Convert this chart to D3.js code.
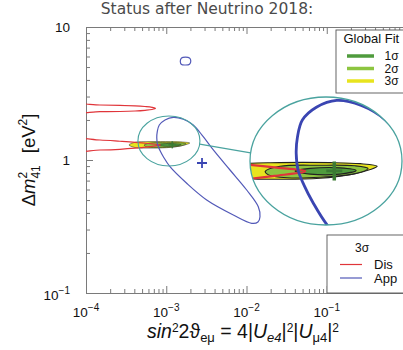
<!DOCTYPE html>
<html><head><meta charset="utf-8">
<script src="https://cdn.jsdelivr.net/npm/d3@7"></script>
<style>body{margin:0;background:#fff} svg{display:block}</style>
</head><body>
<svg id="c" width="403" height="350"></svg>
<script>
// ---------- data ----------
const titleText = "Status after Neutrino 2018:";
const xTickValues = [1e-4, 1e-3, 1e-2, 1e-1];
const xTickExponents = ["−4", "−3", "−2", "−1"];
const yTickValues = [0.1, 1, 10];
const yTickBases = ["10", "1", "10"];
const yTickExponents = ["−1", "", ""];

// Disappearance (3σ) contours  [sin²2θ, Δm²]
const disUpper = [[6.3e-5,2.592],[1.494e-4,2.592],[2.65e-4,2.578],[4.08e-4,2.556],[5.43e-4,2.525],[6.64e-4,2.490],[7.34e-4,2.447],[6.64e-4,2.397],[5.43e-4,2.364],[4.08e-4,2.336],[2.65e-4,2.316],[1.494e-4,2.308],[6.3e-5,2.308]];
const disLower = [[6.3e-5,1.426],[1.494e-4,1.414],[2.65e-4,1.384],[4.08e-4,1.359],[5.92e-4,1.331],[8.48e-4,1.2965],[5.92e-4,1.257],[4.08e-4,1.227],[2.65e-4,1.204],[1.494e-4,1.189],[6.3e-5,1.183]];
// Appearance (3σ) contours
const appMain = [[1.224e-3,2.094],[9.65e-4,1.999],[8.19e-4,1.833],[7.73e-4,1.632],[7.62e-4,1.4636],[7.80e-4,1.3033],[8.36e-4,1.1788],[9.24e-4,1.0533],[1.113e-3,0.8905],[1.798e-3,0.668],[3.19e-3,0.5003],[6.85e-3,0.3859],[1.161e-2,0.3342],[1.390e-2,0.3418],[1.473e-2,0.3748],[1.403e-2,0.4454],[1.006e-2,0.595],[6.23e-3,0.841],[3.86e-3,1.1891],[2.89e-3,1.497],[2.17e-3,1.833],[1.632e-3,2.023]];
const appIsland = [[1.496e-3,5.504],[1.549e-3,5.847],[1.738e-3,5.929],[1.949e-3,5.847],[2.022e-3,5.552],[1.949e-3,5.253],[1.738e-3,5.180],[1.549e-3,5.225]];
const appBestFit = [2.79e-3, 0.949];
// Global fit regions
const gf3 = [[3.434e-4,1.2965],[4.08e-4,1.359],[6.27e-4,1.3749],[1.133e-3,1.3749],[1.612e-3,1.3654],[1.965e-3,1.342],[1.814e-3,1.3123],[1.433e-3,1.2677],[1.010e-3,1.2373],[6.27e-4,1.2288],[4.08e-4,1.2416]];
const gf2 = [[5.30e-4,1.2947],[6.31e-4,1.3411],[1.010e-3,1.3507],[1.518e-3,1.3458],[1.768e-3,1.3223],[1.518e-3,1.2765],[1.010e-3,1.2452],[6.31e-4,1.2452],[5.48e-4,1.2675]];
const gf1 = [[7.52e-4,1.2992],[8.97e-4,1.3223],[1.274e-3,1.3272],[1.537e-3,1.3039],[1.274e-3,1.2721],[8.97e-4,1.2721]];
const globalBestFit = [1.19e-3, 1.30];
const lensCenter = [1.08e-3, 1.39];

const gfLegend = ["1σ", "2σ", "3σ"];
const disAppLegend = ["Dis", "App"];

// ---------- style ----------
const C = {axis:"#7a7a7a", red:"#e0353a", blue:"#5259b8", blueDark:"#3a45b2", teal:"#4aa39f",
  y3:"#e8e41e", g2:"#8dc540", g1:"#4f9b3d", best:"#3b7a33"};
const SANS = "'Liberation Sans', Arial, sans-serif";

const svg = d3.select("#c");
const x = d3.scaleLog().domain([1e-4, 1]).range([86, 407]);
const y = d3.scaleLog().domain([0.1, 10]).range([293, 27]);

function rich(parent, px, py, segs, anchor) {
  const t = parent.append("text").attr("x", px).attr("y", py)
    .attr("text-anchor", anchor || "start").attr("font-family", SANS).attr("fill", "#111");
  let cur = 0;
  segs.forEach(s => {
    const sh = s.sh || 0;
    const ts = t.append("tspan").text(s.t).attr("font-size", s.fs).attr("dy", sh - cur);
    if (s.dx) ts.attr("dx", s.dx);
    if (s.it) ts.attr("font-style", "italic");
    cur = sh;
  });
  return t;
}

// title
svg.append("text").attr("x", 207).attr("y", 13.5).attr("text-anchor", "middle")
  .attr("font-family", "'DejaVu Sans', sans-serif").attr("font-size", 15.5).attr("fill", "#4a4a4a")
  .text(titleText);

// ---------- axes ----------
const xMinor = [], yMinor = [];
[1e-4,1e-3,1e-2,1e-1].forEach(d => { for (let k = 2; k <= 9; k++) xMinor.push(k*d); });
[0.1,1].forEach(d => { for (let k = 2; k <= 9; k++) yMinor.push(k*d); });

function styleAxis(g) {
  g.selectAll("path,line").attr("stroke", C.axis);
}
const gx = svg.append("g").attr("transform", "translate(0,293)");
gx.call(d3.axisBottom(x).tickValues(xTickValues).tickSize(-7).tickSizeOuter(0).tickFormat(""));
gx.append("g").call(d3.axisBottom(x).tickValues(xMinor).tickSize(-4).tickSizeOuter(0).tickFormat("")).select(".domain").remove();
styleAxis(gx);
const gt = svg.append("g").attr("transform", "translate(0,27)");
gt.call(d3.axisTop(x).tickValues(xTickValues).tickSize(-7).tickSizeOuter(0).tickFormat(""));
gt.append("g").call(d3.axisTop(x).tickValues(xMinor).tickSize(-4).tickSizeOuter(0).tickFormat("")).select(".domain").remove();
styleAxis(gt);
const gy = svg.append("g").attr("transform", "translate(86,0)");
gy.call(d3.axisLeft(y).tickValues(yTickValues).tickSize(-7).tickSizeOuter(0).tickFormat(""));
gy.append("g").call(d3.axisLeft(y).tickValues(yMinor).tickSize(-4).tickSizeOuter(0).tickFormat("")).select(".domain").remove();
styleAxis(gy);

xTickValues.forEach((v, i) => {
  rich(svg, x(v), 317, [{t:"10", fs:13.5}, {t:xTickExponents[i], fs:10, sh:-6}], "middle");
});
yTickValues.forEach((v, i) => {
  const segs = [{t:yTickBases[i], fs:13.5}];
  if (yTickExponents[i]) segs.push({t:yTickExponents[i], fs:10, sh:-6});
  rich(svg, 70, y(v) + (yTickExponents[i] ? 7 : 5), segs, "end");
});

// axis titles
rich(svg, 243, 338, [
  {t:"sin", fs:19.5, it:1}, {t:"2", fs:12, sh:-6}, {t:"2ϑ", fs:19.5}, {t:"eμ", fs:13, sh:4},
  {t:" = 4|", fs:19.5}, {t:"U", fs:19.5, it:1}, {t:"e4", fs:13, sh:4, it:1}, {t:"|", fs:19.5},
  {t:"2", fs:12, sh:-6}, {t:"|", fs:19.5}, {t:"U", fs:19.5, it:1}, {t:"μ4", fs:13, sh:4},
  {t:"|", fs:19.5}, {t:"2", fs:12, sh:-6}], "middle");
const gyl = svg.append("g").attr("transform", "translate(35,160) rotate(-90)");
rich(gyl, 0, 0, [
  {t:"Δ", fs:18.5}, {t:"m", fs:18.5, it:1}, {t:"2", fs:12, sh:-8}, {t:"41", fs:12, sh:5, dx:-6.7},
  {t:"[eV", fs:18.5, dx:12}, {t:"2", fs:12, sh:-8}, {t:"]", fs:18.5}], "middle");

// ---------- plot content ----------
const defs = svg.append("defs");
defs.append("clipPath").attr("id", "plotClip").append("rect")
  .attr("x", 86).attr("y", 27).attr("width", 321).attr("height", 266);

function drawContent(g, sx, sy, w) {
  const line = d3.line().x(d => sx(d[0])).y(d => sy(d[1])).curve(d3.curveCatmullRomClosed.alpha(0.5));
  g.append("path").attr("d", line(gf3)).attr("fill", C.y3).attr("stroke", "#222").attr("stroke-width", w.gfs);
  g.append("path").attr("d", line(gf2)).attr("fill", C.g2).attr("stroke", "#222").attr("stroke-width", w.gfs);
  g.append("path").attr("d", line(gf1)).attr("fill", C.g1).attr("stroke", "#222").attr("stroke-width", w.gfs);
  [disUpper, disLower].forEach(c => g.append("path").attr("d", line(c)).attr("fill", "none")
    .attr("stroke", C.red).attr("stroke-width", w.red));
  [appMain, appIsland].forEach(c => g.append("path").attr("d", line(c)).attr("fill", "none")
    .attr("stroke", w.blueCol).attr("stroke-width", w.blue));
  const bx = sx(globalBestFit[0]), by = sy(globalBestFit[1]);
  g.append("line").attr("x1", bx).attr("x2", bx).attr("y1", by - w.cv).attr("y2", by + w.cv)
    .attr("stroke", C.best).attr("stroke-width", w.cw);
  g.append("line").attr("x1", bx - w.ch).attr("x2", bx + w.ch).attr("y1", by).attr("y2", by)
    .attr("stroke", C.best).attr("stroke-width", w.cw * 0.8);
  const ax = sx(appBestFit[0]), ay = sy(appBestFit[1]);
  g.append("path").attr("d", `M${ax-5},${ay}H${ax+5}M${ax},${ay-5}V${ay+5}`)
    .attr("stroke", C.blueDark).attr("stroke-width", 1.8);
}

const main = svg.append("g").attr("clip-path", "url(#plotClip)");
drawContent(main, x, y, {gfs:0.5, red:1.2, blue:1.2, blueCol:C.blue, cv:3.5, ch:4, cw:1.5});

// lens (magnifier)
const lcx = x(lensCenter[0]), lcy = y(lensCenter[1]);
const lens = {rx:31, ry:25}, big = {cx:326, cy:161, rx:76, ry:64};
const kx = big.rx / lens.rx, ky = big.ry / lens.ry;
svg.append("ellipse").attr("cx", lcx).attr("cy", lcy).attr("rx", lens.rx).attr("ry", lens.ry)
  .attr("fill", "none").attr("stroke", C.teal).attr("stroke-width", 1.1);
const ang = Math.atan2(big.cy - lcy, big.cx - lcx);
svg.append("line")
  .attr("x1", lcx + lens.rx*Math.cos(ang)).attr("y1", lcy + lens.ry*Math.sin(ang))
  .attr("x2", big.cx - big.rx*Math.cos(ang)).attr("y2", big.cy - big.ry*Math.sin(ang))
  .attr("stroke", C.teal).attr("stroke-width", 1.1);
defs.append("clipPath").attr("id", "insetClip").append("ellipse")
  .attr("cx", big.cx).attr("cy", big.cy).attr("rx", big.rx).attr("ry", big.ry);
svg.append("ellipse").attr("cx", big.cx).attr("cy", big.cy).attr("rx", big.rx).attr("ry", big.ry)
  .attr("fill", "#fff");
const inset = svg.append("g").attr("clip-path", "url(#insetClip)");
const xi = d => big.cx + kx * (x(d) - lcx);
const yi = d => big.cy + ky * (y(d) - lcy);
drawContent(inset, xi, yi, {gfs:1.1, red:2.2, blue:2.8, blueCol:C.blueDark, cv:9.5, ch:8, cw:3.5});
svg.append("ellipse").attr("cx", big.cx).attr("cy", big.cy).attr("rx", big.rx).attr("ry", big.ry)
  .attr("fill", "none").attr("stroke", C.teal).attr("stroke-width", 1.3);

// ---------- legends ----------
const L1 = svg.append("g");
L1.append("rect").attr("x", 336).attr("y", 30).attr("width", 80).attr("height", 63)
  .attr("fill", "#fff").attr("stroke", "#555").attr("stroke-width", 0.9);
L1.append("text").attr("x", 343.5).attr("y", 43).attr("font-family", SANS).attr("font-size", 13)
  .attr("fill", "#111").text("Global Fit");
const gfCols = [C.g1, C.g2, C.y3], gfY = [56, 68.5, 81];
gfLegend.forEach((s, i) => {
  L1.append("line").attr("x1", 347).attr("x2", 374).attr("y1", gfY[i]).attr("y2", gfY[i])
    .attr("stroke", gfCols[i]).attr("stroke-width", 3.5);
  L1.append("text").attr("x", 384.5).attr("y", gfY[i] + 4).attr("font-family", SANS)
    .attr("font-size", 12).attr("fill", "#111").text(s);
});
const L2 = svg.append("g");
L2.append("rect").attr("x", 327).attr("y", 235).attr("width", 90).attr("height", 58)
  .attr("fill", "#fff").attr("stroke", "#555").attr("stroke-width", 0.9);
L2.append("text").attr("x", 362).attr("y", 252).attr("text-anchor", "middle").attr("font-family", SANS)
  .attr("font-size", 12).attr("fill", "#111").text("3σ");
const dCols = [C.red, C.blue], dY = [264.5, 278];
disAppLegend.forEach((s, i) => {
  L2.append("line").attr("x1", 340).attr("x2", 362).attr("y1", dY[i]).attr("y2", dY[i])
    .attr("stroke", dCols[i]).attr("stroke-width", 1.2);
  L2.append("text").attr("x", 374).attr("y", dY[i] + 4.5).attr("font-family", SANS)
    .attr("font-size", 13).attr("fill", "#111").text(s);
});
</script>
</body></html>
